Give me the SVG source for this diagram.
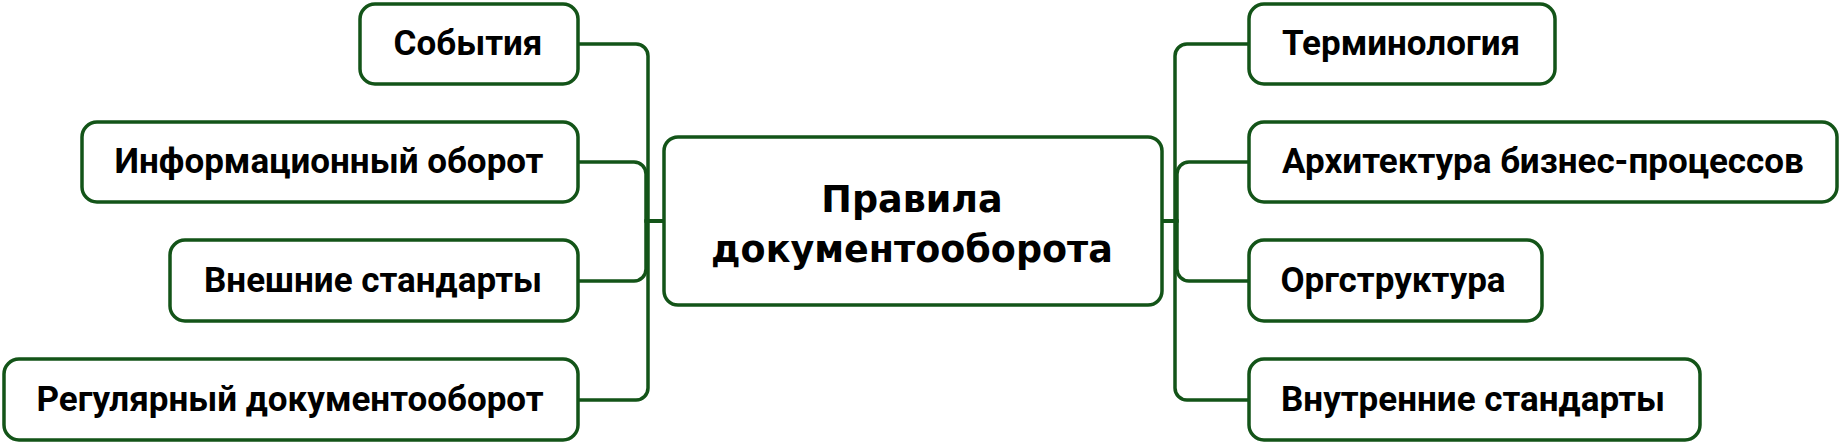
<svg xmlns="http://www.w3.org/2000/svg" width="1840" height="443" viewBox="0 0 1840 443">
<style>
.box{fill:#fff;stroke:#135418;stroke-width:3.5}
.con{fill:none;stroke:#135418;stroke-width:3.5}
.t{font-family:Roboto,"Liberation Sans",sans-serif;font-weight:bold;font-size:35px;fill:#000;text-anchor:middle}
.c{font-family:"DejaVu Sans",sans-serif;font-weight:bold;font-size:36.5px;fill:#000;text-anchor:middle}
</style>
<rect width="1840" height="443" fill="#fff"/>
<g id="connectors">
<path class="con" d="M578,44 H636 A12,12 0 0 1 648,56 V221 H664"/>
<path class="con" d="M578,162 H634 A12,12 0 0 1 646,174 V221 H664"/>
<path class="con" d="M578,281 H634 A12,12 0 0 0 646,269 V221 H664"/>
<path class="con" d="M578,400 H636 A12,12 0 0 0 648,388 V221 H664"/>
<path class="con" d="M1162,221 H1175 V56 A12,12 0 0 1 1187,44 H1249"/>
<path class="con" d="M1162,221 H1177 V174 A12,12 0 0 1 1189,162 H1249"/>
<path class="con" d="M1162,221 H1177 V269 A12,12 0 0 0 1189,281 H1249"/>
<path class="con" d="M1162,221 H1175 V388 A12,12 0 0 0 1187,400 H1249"/>
</g>
<g id="center">
<rect class="box" x="664" y="137" width="498" height="168" rx="14"/>
<text class="c" x="912" y="212">Правила</text>
<text class="c" x="912" y="262">документооборота</text>
</g>
<g id="n-sobytiya">
<rect class="box" x="360" y="4" width="218" height="80" rx="15"/>
<text class="t" x="468" y="55">События</text>
</g>
<g id="n-info">
<rect class="box" x="82" y="122" width="496" height="80" rx="15"/>
<text class="t" x="329" y="173">Информационный оборот</text>
</g>
<g id="n-vneshnie">
<rect class="box" x="170" y="240" width="408" height="81" rx="15"/>
<text class="t" x="373" y="292">Внешние стандарты</text>
</g>
<g id="n-regular">
<rect class="box" x="4" y="359" width="574" height="81" rx="15"/>
<text class="t" x="290" y="411">Регулярный документооборот</text>
</g>
<g id="n-term">
<rect class="box" x="1249" y="4" width="306" height="80" rx="15"/>
<text class="t" x="1401" y="55">Терминология</text>
</g>
<g id="n-arch">
<rect class="box" x="1249" y="122" width="588" height="80" rx="15"/>
<text class="t" x="1543" y="173">Архитектура бизнес-процессов</text>
</g>
<g id="n-org">
<rect class="box" x="1249" y="240" width="293" height="81" rx="15"/>
<text class="t" x="1393" y="292">Оргструктура</text>
</g>
<g id="n-vnutr">
<rect class="box" x="1249" y="359" width="451" height="81" rx="15"/>
<text class="t" x="1473" y="411">Внутренние стандарты</text>
</g>
</svg>
